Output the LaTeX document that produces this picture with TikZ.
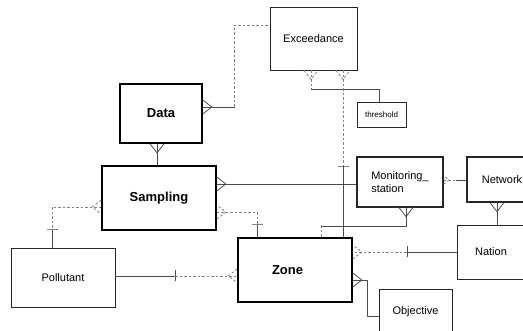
\documentclass[tikz,border=0pt]{standalone}
\usepackage{fontspec}
\setmainfont{Liberation Sans}
\usetikzlibrary{arrows.meta}
\newcommand{\crowfoot}[3][rel]{\draw[shift={(#2)}, rotate=#3, #1] (0,7) -- (9,0) -- (0,-7);}

\begin{document}
\begin{tikzpicture}[x=1pt, y=-1pt,
        entity/.style={rectangle, draw=black!85, line width=0.8pt, inner sep=0pt,
                       font=\fontsize{11}{13}\selectfont},
        strong/.style={entity, draw=black, line width=1.6pt,
                       font=\fontsize{13}{15}\selectfont\bfseries},
        rel/.style={draw=black!70, line width=0.8pt},
        reldash/.style={draw=black!50, line width=0.8pt, dash pattern=on 2.5pt off 2pt},
        tickend/.style={-{Bar[width=11pt]}},
    ]
        \clip (0,0) rectangle (523,331);
        % Entities
        \node[entity, minimum width=87pt, minimum height=63pt] (exceed) at (313.5,38.5) {Exceedance};
        \node[strong, minimum width=82pt, minimum height=59pt] (data) at (161,113.5) {Data};
        \node[entity, font=\fontsize{8}{10}\selectfont, minimum width=49pt, minimum height=25pt] (thresh) at (381.5,114.5) {threshold};
        \node[strong, minimum width=114pt, minimum height=64pt] (sampling) at (159,198) {Sampling};
        \node[entity, line width=1.2pt, align=left, minimum width=86pt, minimum height=50pt] (station) at (400,182) {Monitoring\_\\station};
        \node[entity, line width=1.2pt, minimum width=70pt, minimum height=45pt] (network) at (502,179.5) {Network};
        \node[entity, minimum width=104pt, minimum height=59pt] (pollutant) at (63,277.5) {Pollutant};
        \node[strong, align=left, text width=46pt, inner xsep=34pt, minimum height=64pt] (zone) at (295,270) {Zone};
        \node[entity, minimum width=68pt, minimum height=54pt] (nation) at (491,252) {Nation};
        \node[entity, minimum width=73pt, minimum height=46pt] (objective) at (415.5,312) {Objective};

        % Data - Exceedance
        \draw[rel] ([yshift=6.5pt]data.east) -- ++(32,0) coordinate (d1);
        \draw[reldash] (d1) |- ([yshift=13.5pt]exceed.west);
        \crowfoot{[yshift=6.5pt]data.east}{0}
        % Data - Sampling
        \draw[rel] ([xshift=-4pt]data.south) -- ([xshift=-4pt]data.south |- sampling.north);
        \crowfoot{[xshift=-4pt]data.south}{-90}
        % Exceedance - threshold
        \draw[reldash] ([xshift=-2.5pt]exceed.south) -- ++(0,19) coordinate (e1);
        \draw[rel] (e1) -| ([xshift=-2.5pt]thresh.north);
        \crowfoot[reldash]{[xshift=-2.5pt]exceed.south}{-90}
        % Exceedance - Zone
        \draw[reldash, tickend] ([xshift=29.5pt]exceed.south) -- ++(0,96) coordinate (e2);
        \draw[rel] (e2) -- (e2 |- zone.north);
        \crowfoot[reldash]{[xshift=29.5pt]exceed.south}{-90}
        % Sampling - Monitoring station
        \draw[rel] ([yshift=14pt]sampling.east) -- ([yshift=14pt]sampling.east -| station.west);
        \crowfoot{[yshift=14pt]sampling.east}{0}
        % Sampling - Zone
        \draw[reldash, tickend] ([yshift=-14pt]sampling.east) -| ([xshift=-38pt,yshift=12pt]zone.north) coordinate (s1);
        \draw[rel] (s1) -- (s1 |- zone.north);
        \crowfoot[reldash]{[yshift=-14pt]sampling.east}{0}
        % Sampling - Pollutant
        \draw[reldash, tickend] ([yshift=-9pt]sampling.west) -| ([xshift=-11pt,yshift=18pt]pollutant.north) coordinate (p1);
        \draw[rel] (p1) -- (p1 |- pollutant.north);
        \crowfoot[reldash]{[yshift=-9pt]sampling.west}{180}
        % Pollutant - Zone
        \draw[rel, tickend] ([yshift=1.5pt]pollutant.east) -- ++(60,0) coordinate (p2);
        \draw[reldash] (p2) -- (p2 -| zone.west);
        \crowfoot[reldash]{[yshift=1.5pt]pollutant.east -| zone.west}{180}
        % Monitoring station - Zone
        \draw[rel] ([xshift=6pt]station.south) -- ++(0,19) -| ([xshift=26pt,yshift=12pt]zone.north) coordinate (m1);
        \draw[reldash] (m1) -- (m1 |- zone.north);
        \crowfoot{[xshift=6pt]station.south}{-90}
        % Monitoring station - Network
        \draw[reldash] ([yshift=2pt]station.east) -- ++(12,0) coordinate (m2);
        \draw[rel] (m2) -- (m2 -| network.west);
        \crowfoot[reldash, scale=0.6]{[yshift=2pt]station.east}{0}
        % Network - Nation
        \draw[rel] ([xshift=-5pt]network.south) -- ([xshift=-5pt]network.south |- nation.north);
        \crowfoot{[xshift=-5pt]network.south}{-90}
        % Nation - Zone
        \draw[rel, tickend] (nation.west) -- ++(-50,0) coordinate (n1);
        \draw[reldash] (n1) -- (n1 -| zone.east);
        \crowfoot[reldash]{nation.west -| zone.east}{0}
        % Zone - Objective
        \draw[rel] ([yshift=-10pt]zone.east) -- ++(15,0) |- ([yshift=-4pt]objective.west);
        \crowfoot{[yshift=-10pt]zone.east}{0}
    \end{tikzpicture}
\end{document}
